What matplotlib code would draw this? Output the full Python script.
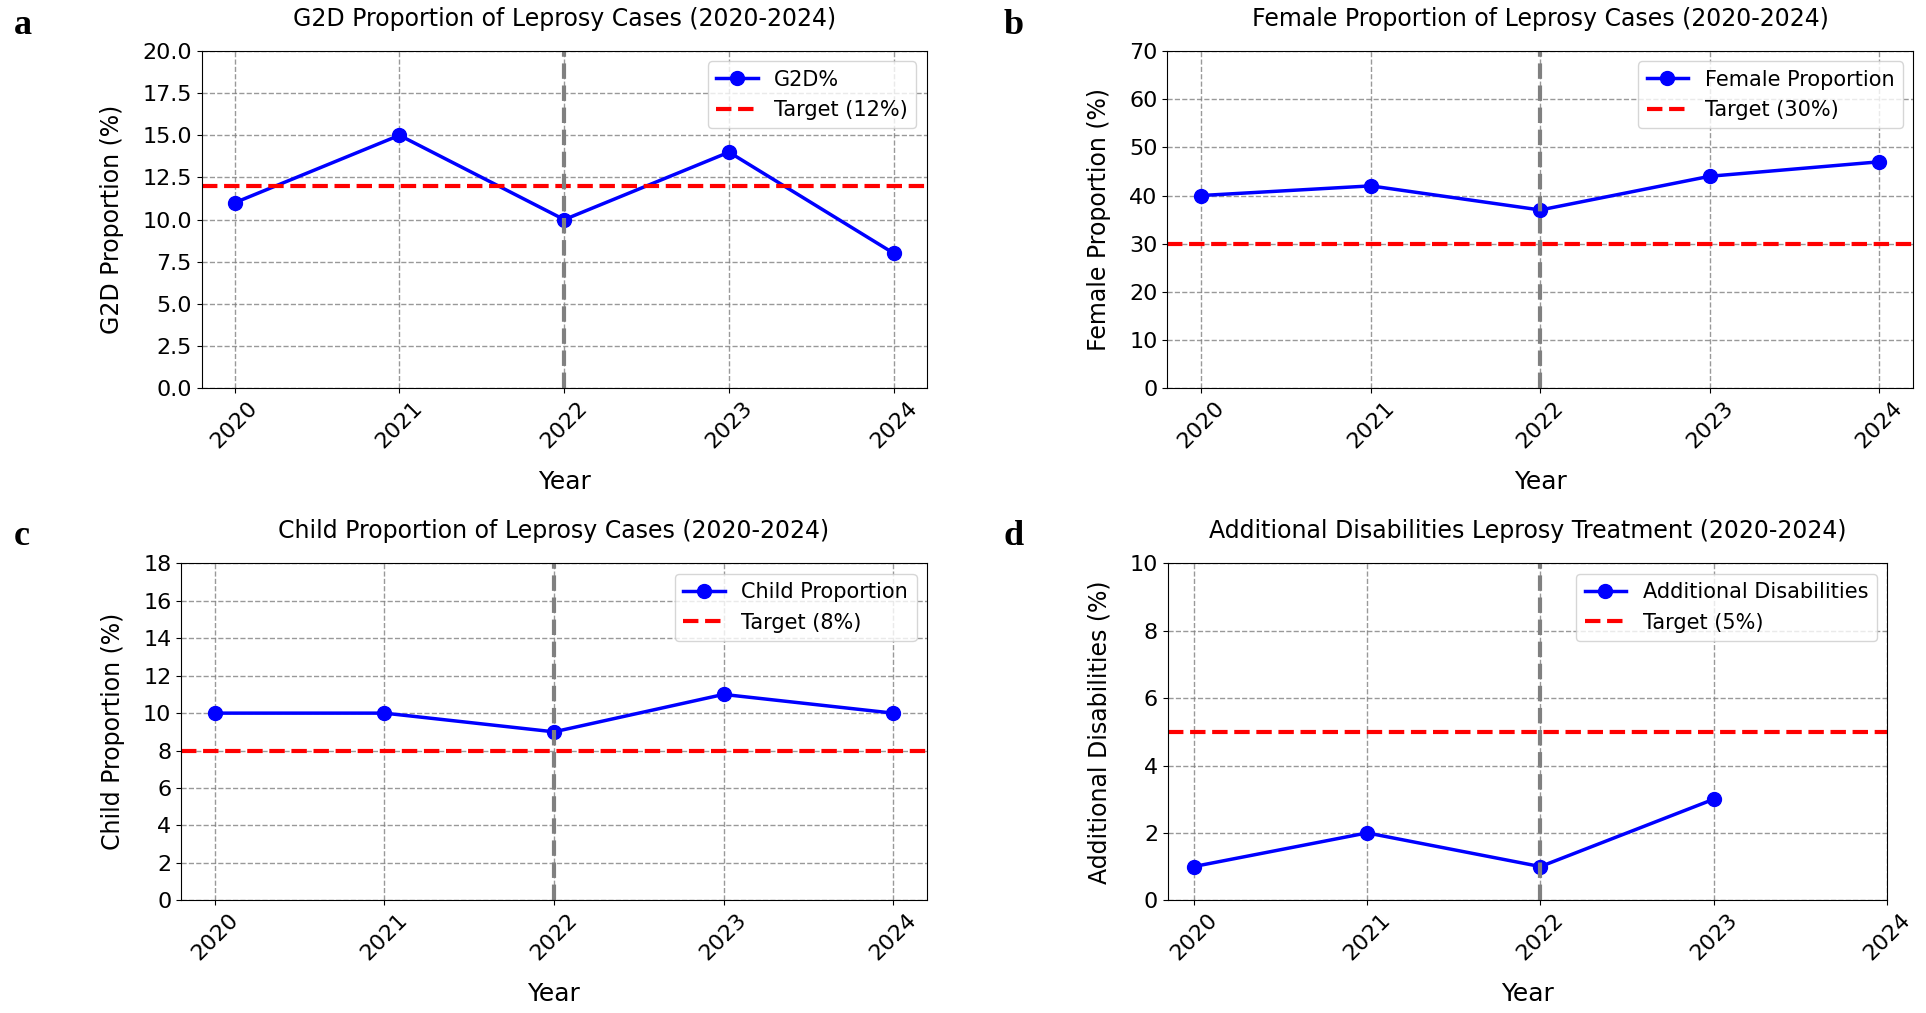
import matplotlib
matplotlib.use('Agg')
import matplotlib.pyplot as plt

years = [2020, 2021, 2022, 2023, 2024]

# panel data
g2d = [11, 15, 10, 14, 8]
female = [40, 42, 37, 44, 47]
child = [10, 10, 9, 11, 10]
add_dis = [1, 2, 1, 3]          # no value for 2024

g2d_target = 12
female_target = 30
child_target = 8
add_dis_target = 5

titles = ['G2D Proportion of Leprosy Cases (2020-2024)',
          'Female Proportion of Leprosy Cases (2020-2024)',
          'Child Proportion of Leprosy Cases (2020-2024)',
          'Additional Disabilities Leprosy Treatment (2020-2024)']
ylabels = ['G2D Proportion (%)', 'Female Proportion (%)',
           'Child Proportion (%)', 'Additional Disabilities (%)']
series_names = ['G2D%', 'Female Proportion', 'Child Proportion', 'Additional Disabilities']
letters = ['a', 'b', 'c', 'd']

values = [g2d, female, child, add_dis]
targets = [g2d_target, female_target, child_target, add_dis_target]
yticks = [[0, 2.5, 5, 7.5, 10, 12.5, 15, 17.5, 20],
          [0, 10, 20, 30, 40, 50, 60, 70],
          [0, 2, 4, 6, 8, 10, 12, 14, 16, 18],
          [0, 2, 4, 6, 8, 10]]
ytick_labels = [['0.0', '2.5', '5.0', '7.5', '10.0', '12.5', '15.0', '17.5', '20.0'],
                None, None, None]

fig = plt.figure(figsize=(19.26, 10.13), dpi=100)

# axes boxes [left, bottom, width, height] in figure fraction
boxes = [[0.1047, 0.6167, 0.3765, 0.3330],
         [0.6061, 0.6167, 0.3873, 0.3330],
         [0.0940, 0.1113, 0.3873, 0.3325],
         [0.6063, 0.1113, 0.3735, 0.3325]]
letter_pos = [(0.007, 0.975), (0.521, 0.975), (0.007, 0.47), (0.521, 0.47)]

for i in range(4):
    ax = fig.add_axes(boxes[i])
    vals = values[i]
    ax.plot(years[:len(vals)], vals, 'o-', color='blue', linewidth=2.5,
            markersize=10, label=series_names[i])
    ax.axhline(targets[i], color='red', linestyle='--', linewidth=3,
               label=f'Target ({targets[i]}%)')
    ax.axvline(2022, color='gray', linestyle='--', linewidth=3)
    ax.set_xticks(years)
    ax.set_yticks(yticks[i])
    if ytick_labels[i] is not None:
        ax.set_yticklabels(ytick_labels[i])
    ax.set_ylim(yticks[i][0], yticks[i][-1])
    ax.tick_params(axis='x', labelrotation=45, labelsize=16)
    ax.tick_params(axis='y', labelsize=16)
    ax.set_title(titles[i], fontsize=17, pad=18)
    ax.set_xlabel('Year', fontsize=18, labelpad=13)
    ax.set_ylabel(ylabels[i], fontsize=17, labelpad=13)
    ax.grid(True, linestyle='--', color='gray', linewidth=1, alpha=0.8)
    ax.legend(loc='upper right', fontsize=15)
    fig.text(letter_pos[i][0], letter_pos[i][1], letters[i], fontsize=26,
             fontweight='bold', family='Liberation Serif', va='center')

fig.savefig('out.png', dpi=100)
